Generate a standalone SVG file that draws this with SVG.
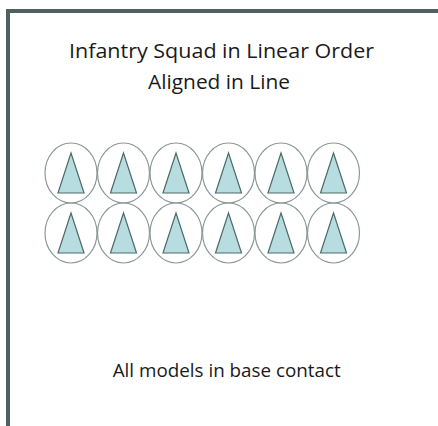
<svg xmlns="http://www.w3.org/2000/svg" width="438" height="426" viewBox="0 0 438 426">
<style>
.t{font-family:"Open Sans","Liberation Sans",sans-serif;fill:#1a1a1a;text-anchor:middle}
.base{fill:none;stroke:#8c9898;stroke-width:1.2}
.fig{fill:#b7dde0;stroke:#4e6b6b;stroke-width:1.2;stroke-linejoin:miter}
</style>
<defs>
<g id="model">
<ellipse class="base" cx="0" cy="0" rx="26" ry="30"/>
<polygon class="fig" points="0,-20 13,20 -13,20"/>
</g>
</defs>
<rect x="0" y="0" width="438" height="426" fill="#ffffff"/>
<path d="M8,426 V11 H438" fill="none" stroke="#4e615f" stroke-width="4"/>
<g id="title">
<text class="t" x="221.5" y="58" font-size="20.5" textLength="305" lengthAdjust="spacingAndGlyphs">Infantry Squad in Linear Order</text>
<text class="t" x="219" y="88.5" font-size="20.5" textLength="142" lengthAdjust="spacingAndGlyphs">Aligned in Line</text>
</g>
<g id="row1">
<use href="#model" x="71" y="173"/>
<use href="#model" x="123.5" y="173"/>
<use href="#model" x="176" y="173"/>
<use href="#model" x="228.5" y="173"/>
<use href="#model" x="281" y="173"/>
<use href="#model" x="333.5" y="173"/>
</g>
<g id="row2">
<use href="#model" x="71" y="233"/>
<use href="#model" x="123.5" y="233"/>
<use href="#model" x="176" y="233"/>
<use href="#model" x="228.5" y="233"/>
<use href="#model" x="281" y="233"/>
<use href="#model" x="333.5" y="233"/>
</g>
<g id="caption">
<text class="t" x="226.7" y="377" font-size="18" textLength="228" lengthAdjust="spacingAndGlyphs">All models in base contact</text>
</g>
</svg>
